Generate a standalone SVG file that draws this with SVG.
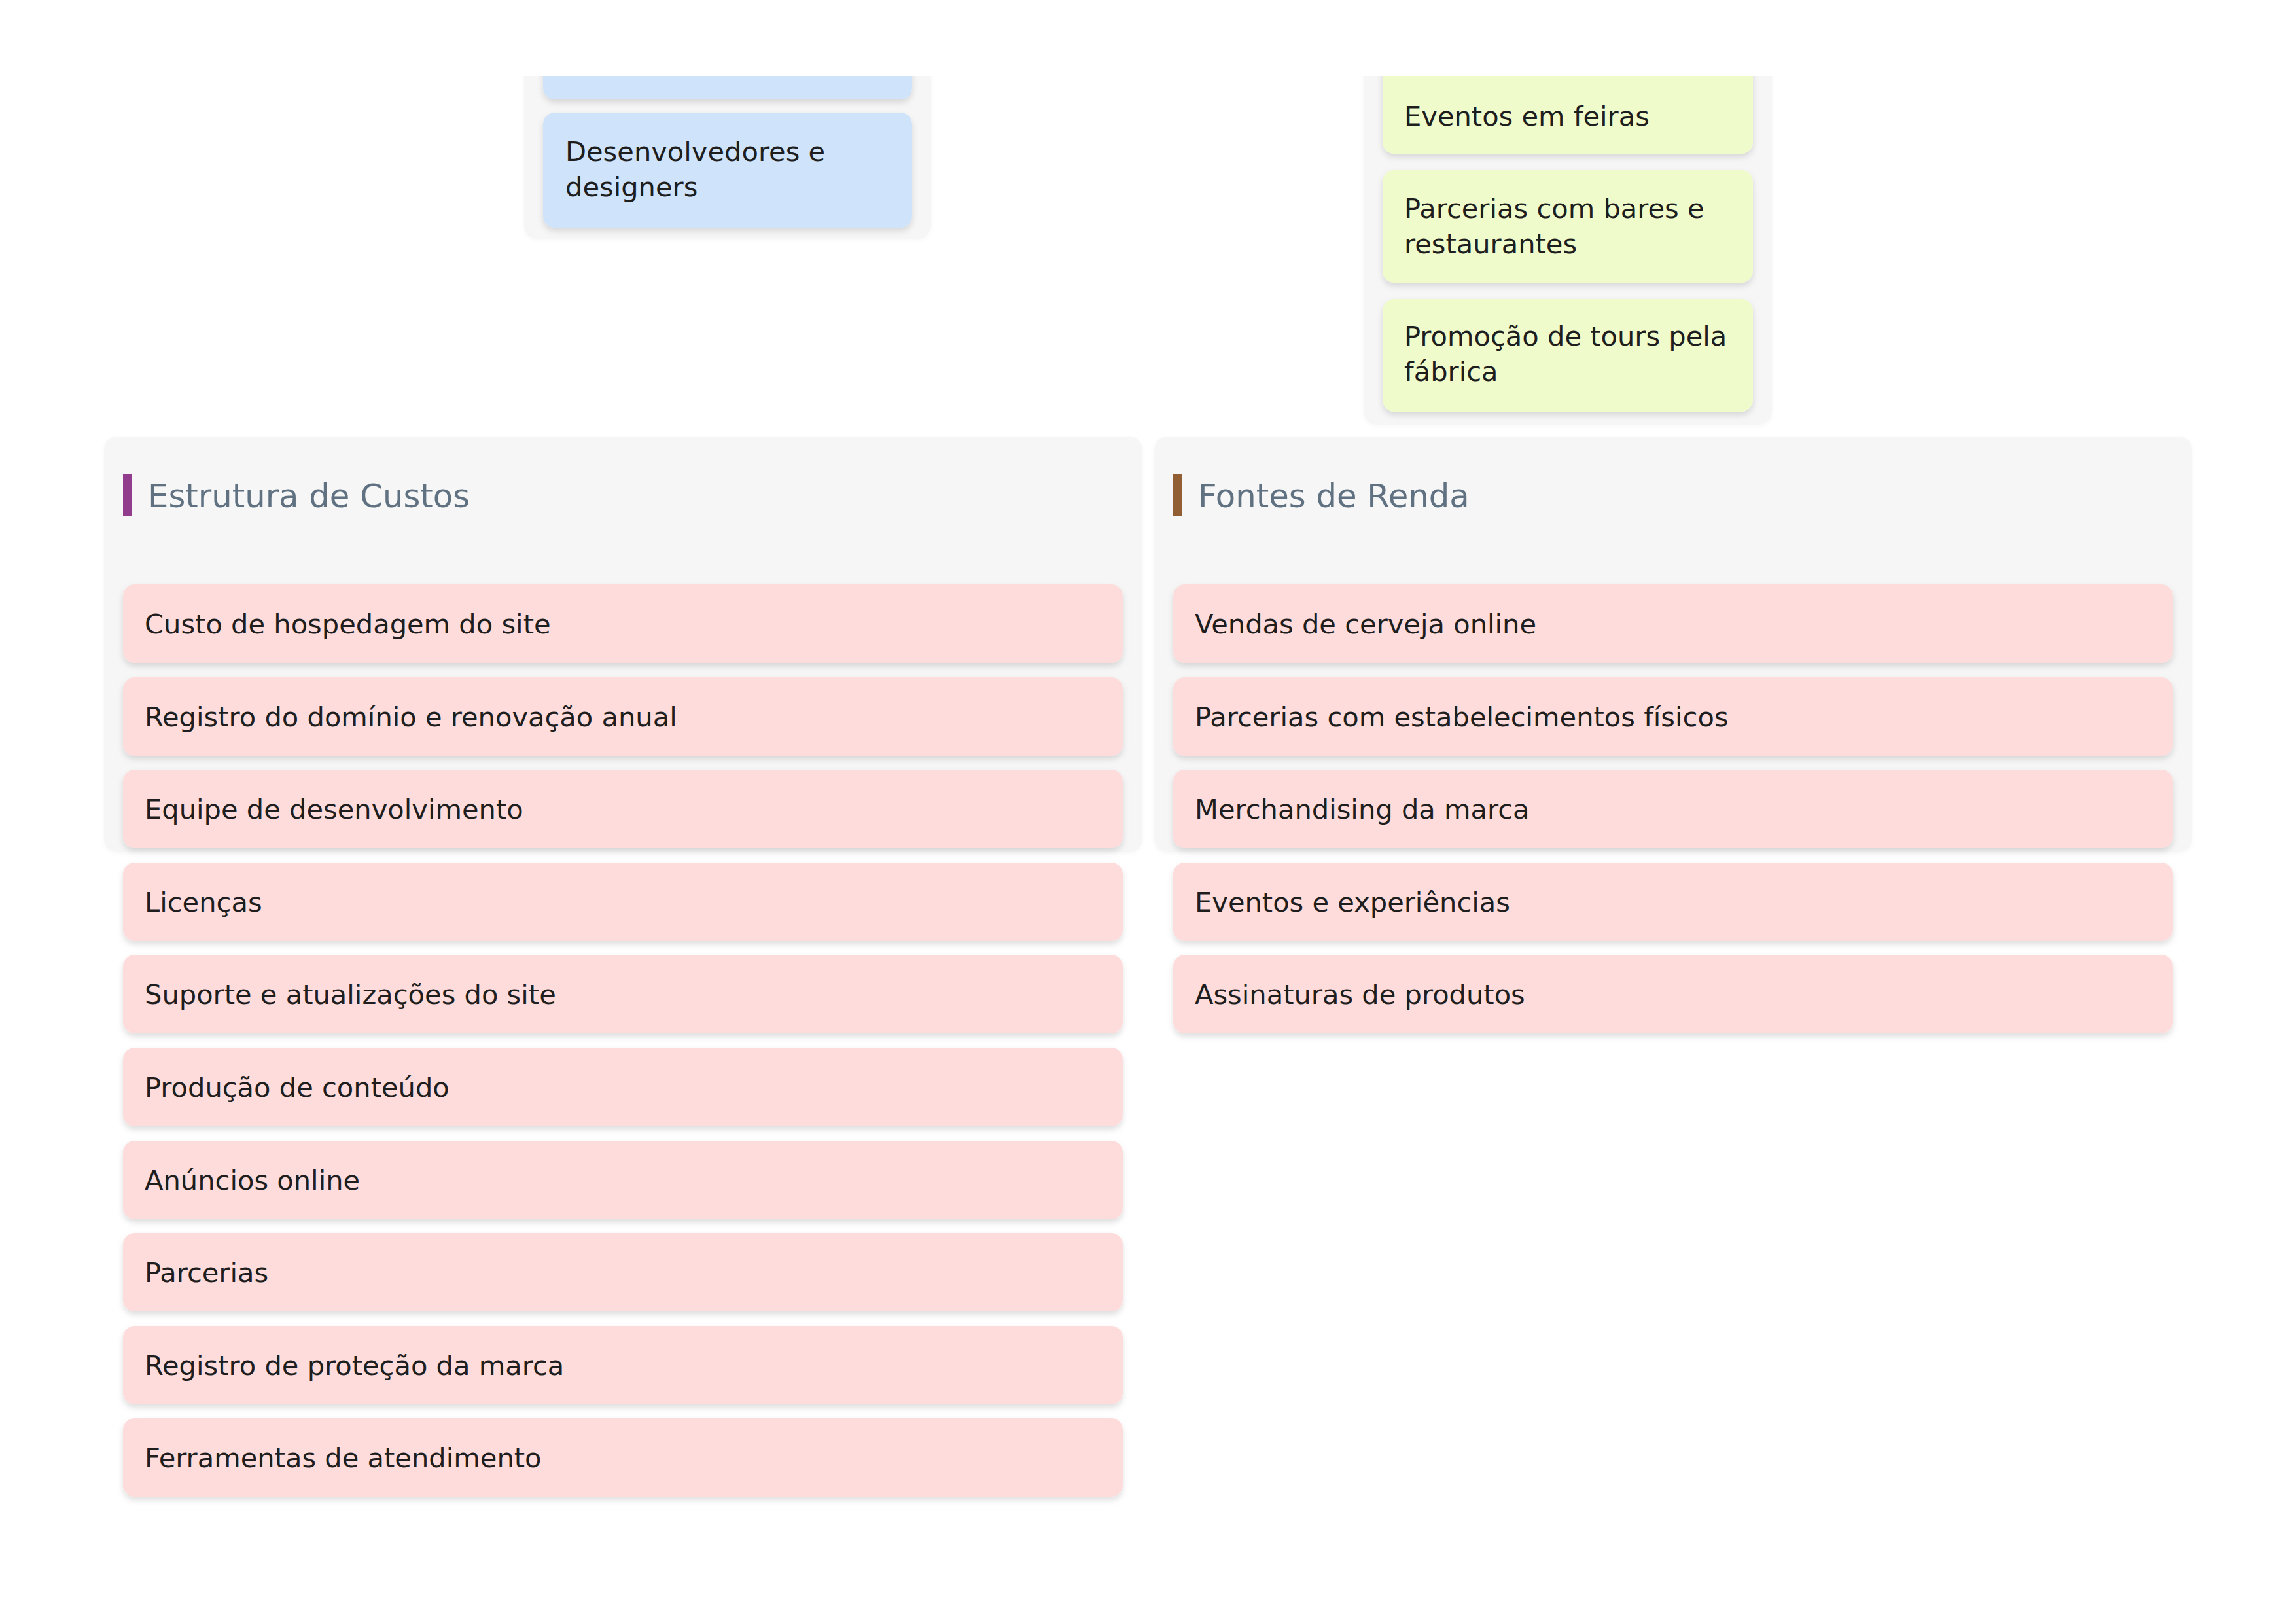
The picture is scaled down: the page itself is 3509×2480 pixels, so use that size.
<svg xmlns="http://www.w3.org/2000/svg" width="3509" height="2480" viewBox="0 0 3509 2480">
<defs>
<style>
.cont{fill:#f6f6f6}
.card{filter:url(#sh)}
.pink{fill:#fedcdc}
.blue{fill:#cfe3fb}
.green{fill:#f0fbcb}
.t{font-family:"DejaVu Sans","Liberation Sans",sans-serif;font-size:41.6px;fill:#1e1e1e}
.h{font-family:"DejaVu Sans","Liberation Sans",sans-serif;font-size:49.7px;fill:#607282}
</style>
<filter id="sh" x="-5%" y="-20%" width="110%" height="150%">
<feDropShadow dx="0" dy="5" stdDeviation="5" flood-color="#000" flood-opacity="0.13"/>
</filter>
<filter id="shc" x="-5%" y="-5%" width="110%" height="110%">
<feDropShadow dx="0" dy="2" stdDeviation="3" flood-color="#000" flood-opacity="0.03"/>
</filter>
<clipPath id="topclip"><rect x="0" y="116" width="3509" height="600"/></clipPath>
</defs>
<rect width="3509" height="2480" fill="#ffffff"/>

<g id="partners" clip-path="url(#topclip)">
<rect class="cont" x="801" y="60" width="622" height="305" rx="20" filter="url(#shc)"/>
<g id="partner-1"><rect class="blue card" x="830" y="20" width="564" height="132" rx="18"/></g>
<g id="partner-2"><rect class="blue card" x="830" y="172" width="564" height="176" rx="18"/>
<text class="t" x="864" y="246">Desenvolvedores e</text>
<text class="t" x="864" y="300">designers</text></g>
</g>

<g id="channels" clip-path="url(#topclip)">
<rect class="cont" x="2084" y="60" width="624" height="589" rx="20" filter="url(#shc)"/>
<g id="channel-1"><rect class="green card" x="2113" y="90" width="566" height="145" rx="18"/>
<text class="t" x="2146" y="192">Eventos em feiras</text></g>
<g id="channel-2"><rect class="green card" x="2113" y="260" width="566" height="172" rx="18"/>
<text class="t" x="2146" y="333">Parcerias com bares e</text>
<text class="t" x="2146" y="387">restaurantes</text></g>
<g id="channel-3"><rect class="green card" x="2113" y="457" width="566" height="172" rx="18"/>
<text class="t" x="2146" y="528">Promoção de tours pela</text>
<text class="t" x="2146" y="582">fábrica</text></g>
</g>

<g id="costs">
<rect class="cont" x="159" y="667" width="1587" height="635" rx="20" filter="url(#shc)"/>
<rect x="188" y="725" width="13" height="63" fill="#923c8e"/>
<text class="h" x="226" y="775">Estrutura de Custos</text>
<g id="cost-1"><rect class="pink card" x="188" y="893" width="1528" height="120" rx="18"/><text class="t" x="221" y="968">Custo de hospedagem do site</text></g>
<g id="cost-2"><rect class="pink card" x="188" y="1035" width="1528" height="120" rx="18"/><text class="t" x="221" y="1110">Registro do domínio e renovação anual</text></g>
<g id="cost-3"><rect class="pink card" x="188" y="1176" width="1528" height="120" rx="18"/><text class="t" x="221" y="1251">Equipe de desenvolvimento</text></g>
<g id="cost-4"><rect class="pink card" x="188" y="1318" width="1528" height="120" rx="18"/><text class="t" x="221" y="1393">Licenças</text></g>
<g id="cost-5"><rect class="pink card" x="188" y="1459" width="1528" height="120" rx="18"/><text class="t" x="221" y="1534">Suporte e atualizações do site</text></g>
<g id="cost-6"><rect class="pink card" x="188" y="1601" width="1528" height="120" rx="18"/><text class="t" x="221" y="1676">Produção de conteúdo</text></g>
<g id="cost-7"><rect class="pink card" x="188" y="1743" width="1528" height="120" rx="18"/><text class="t" x="221" y="1818">Anúncios online</text></g>
<g id="cost-8"><rect class="pink card" x="188" y="1884" width="1528" height="120" rx="18"/><text class="t" x="221" y="1959">Parcerias</text></g>
<g id="cost-9"><rect class="pink card" x="188" y="2026" width="1528" height="120" rx="18"/><text class="t" x="221" y="2101">Registro de proteção da marca</text></g>
<g id="cost-10"><rect class="pink card" x="188" y="2167" width="1528" height="120" rx="18"/><text class="t" x="221" y="2242">Ferramentas de atendimento</text></g>
</g>

<g id="revenue">
<rect class="cont" x="1764" y="667" width="1586" height="635" rx="20" filter="url(#shc)"/>
<rect x="1793" y="725" width="13" height="63" fill="#915f33"/>
<text class="h" x="1831" y="775">Fontes de Renda</text>
<g id="rev-1"><rect class="pink card" x="1793" y="893" width="1528" height="120" rx="18"/><text class="t" x="1826" y="968">Vendas de cerveja online</text></g>
<g id="rev-2"><rect class="pink card" x="1793" y="1035" width="1528" height="120" rx="18"/><text class="t" x="1826" y="1110">Parcerias com estabelecimentos físicos</text></g>
<g id="rev-3"><rect class="pink card" x="1793" y="1176" width="1528" height="120" rx="18"/><text class="t" x="1826" y="1251">Merchandising da marca</text></g>
<g id="rev-4"><rect class="pink card" x="1793" y="1318" width="1528" height="120" rx="18"/><text class="t" x="1826" y="1393">Eventos e experiências</text></g>
<g id="rev-5"><rect class="pink card" x="1793" y="1459" width="1528" height="120" rx="18"/><text class="t" x="1826" y="1534">Assinaturas de produtos</text></g>
</g>

<g id="connectors"></g>
</svg>
